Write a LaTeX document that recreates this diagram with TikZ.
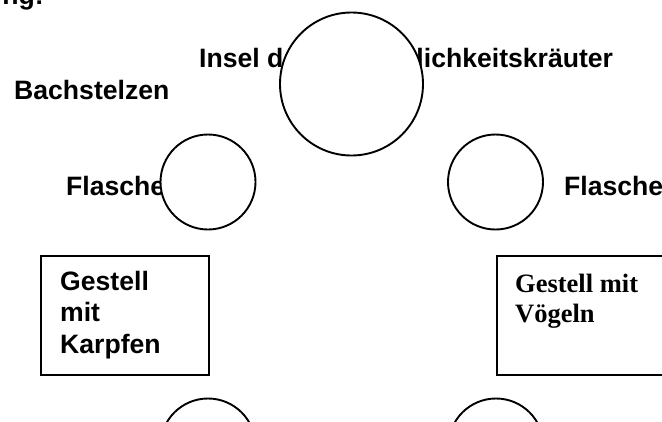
\documentclass[tikz,border=0pt]{standalone}
\usepackage{fontspec}
\setmainfont{Liberation Sans}
\newfontfamily\timesfont{Liberation Serif}
\usetikzlibrary{positioning}

\begin{document}
\begin{tikzpicture}[
        x=1pt, y=-1pt,
        word/.style={inner sep=0pt, anchor=base west, font=\bfseries\fontsize{26.6}{31.5}\selectfont},
        flask/.style={circle, draw, fill=white, line width=1.9pt, minimum size=95pt, inner sep=0pt},
        island/.style={flask, minimum size=143pt},
        rack/.style={rectangle, draw, line width=1.9pt, minimum width=168pt, minimum height=119pt, inner sep=0pt, anchor=north west}
    ]
        \useasboundingbox (0,0) rectangle (662,421);

        \node [word, anchor=base east] (heading) at (44,4) {ng:};
        \node [word] (wagtails) at (14,99) {Bachstelzen};
        \node [word] (islandlabel) at (199,67) {Insel der Unsterblichkeitskräuter};
        \node [word] (flasklabelL) at (66,195) {Flasche};
        \node [word] (flasklabelR) at (564,195) {Flasche};

        \node [island] (island) at (351.5,84) {};
        \node [flask] (flaskL) at (208,182) {};
        \node [flask] (flaskR) at (495.5,182) {};
        \node [flask] (flaskBL) at (208,446) {};
        \node [flask] (flaskBR) at (496,446) {};

        \node [rack] (carprack) at (40,255) {};
        \node [rack] (birdrack) at (496,255) {};
        % multi-line nodes sit on the baseline of their last line
        \node [word, align=left] (carptext) at (60,353) {Gestell\\mit\\Karpfen};
        \node [word, align=left, font=\timesfont\bfseries\fontsize{26.5}{30}\selectfont] (birdtext) at (515,322) {Gestell mit\\Vögeln};
    \end{tikzpicture}
\end{document}
